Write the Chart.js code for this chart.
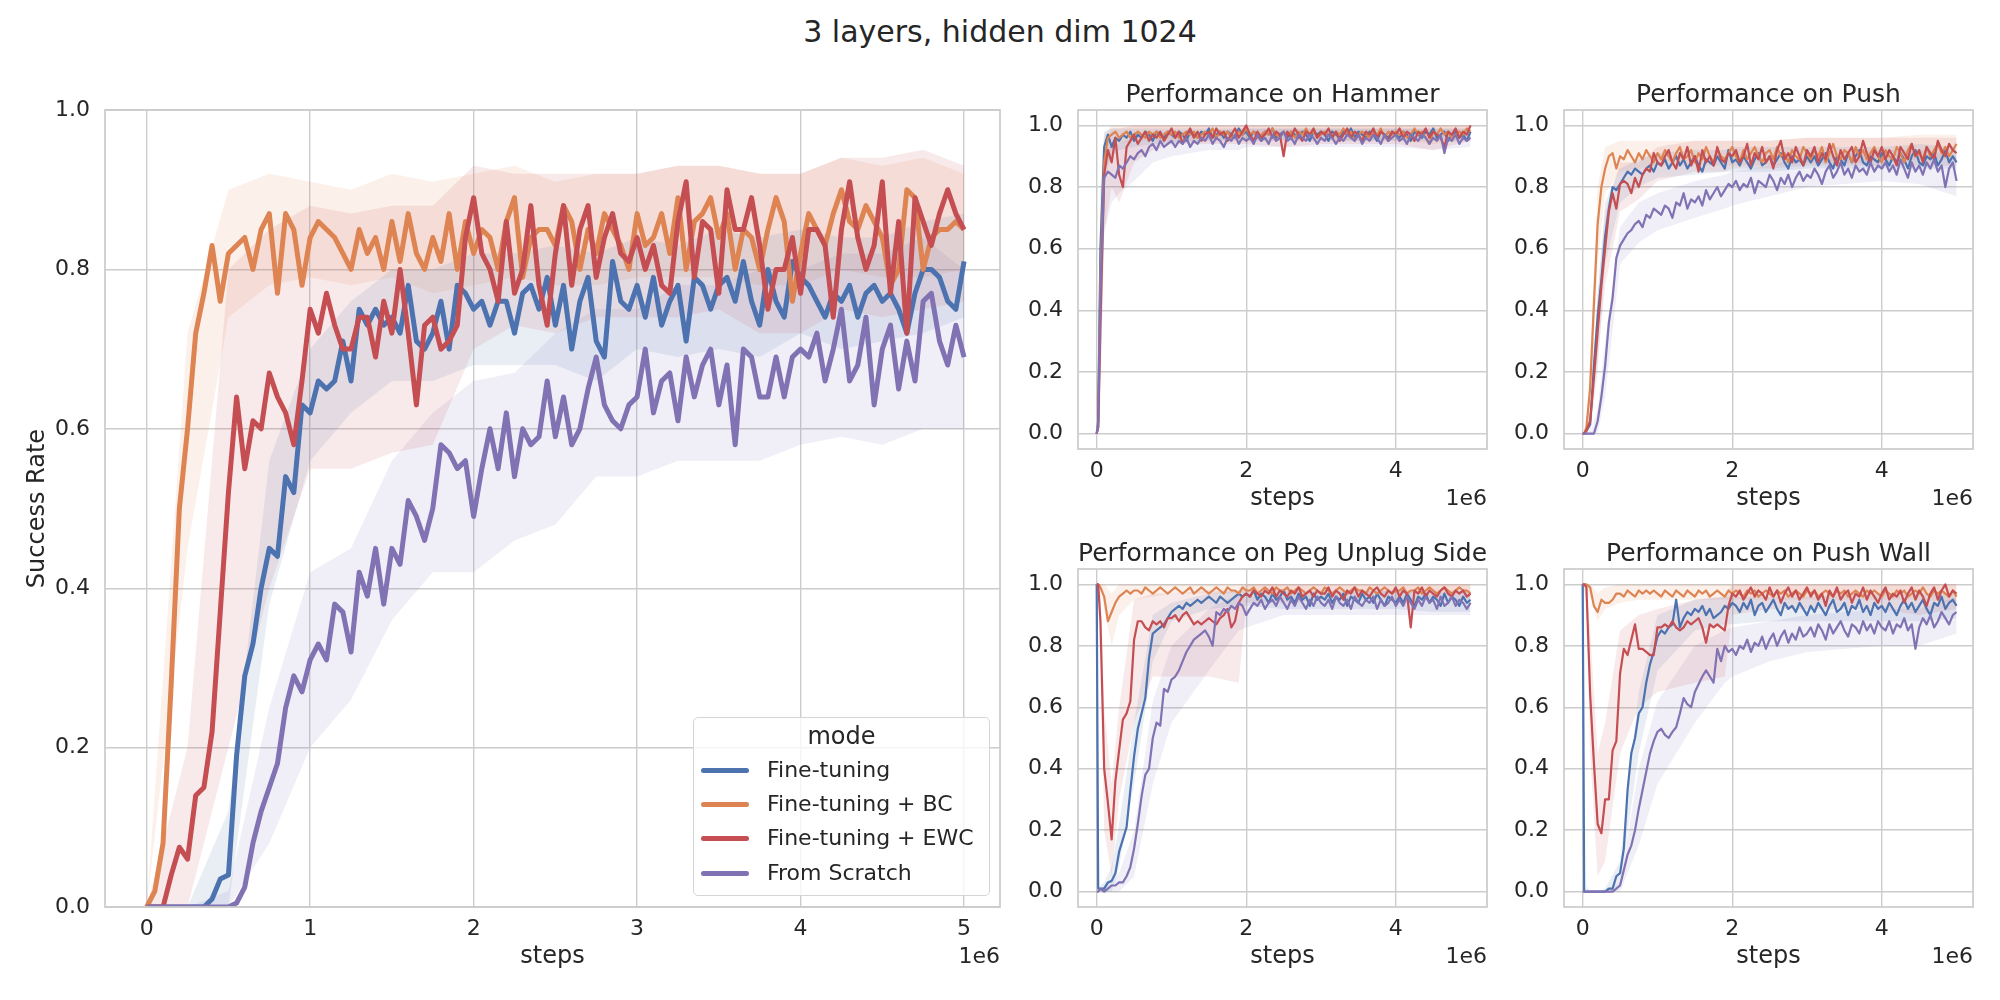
<!DOCTYPE html>
<html>
<head>
<meta charset="utf-8">
<title>3 layers, hidden dim 1024</title>
<script src="https://cdn.jsdelivr.net/npm/chart.js@4.4.1/dist/chart.umd.min.js"></script>
<style>
  html, body { margin: 0; padding: 0; background: #fff; }
  body { width: 2000px; height: 1000px; position: relative; overflow: hidden; font-family: 'DejaVu Sans', sans-serif; color: #262626; }
  canvas { position: absolute; }
  #suptitle { position: absolute; left: 0; top: 15px; width: 2000px; text-align: center; font-size: 30px; line-height: 34px; white-space: nowrap; }
  #legend { position: absolute; box-sizing: border-box; border: 1.5px solid #d5d5d5; border-radius: 5px; background: rgba(255,255,255,0.8); }
  #legend .ttl { position: absolute; left: 0; right: 0; text-align: center; font-size: 24px; line-height: 34px; }
  #legend .row { position: absolute; left: 0; right: 0; height: 34px; }
  #legend .sw { position: absolute; left: 7px; top: 15px; width: 48px; height: 5px; border-radius: 2.5px; }
  #legend .lbl { position: absolute; left: 73px; top: 0; font-size: 22px; line-height: 34px; white-space: nowrap; }
</style>
</head>
<body>
<div id="suptitle">3 layers, hidden dim 1024</div>
<canvas id="main"></canvas>
<canvas id="hammer"></canvas>
<canvas id="push"></canvas>
<canvas id="peg"></canvas>
<canvas id="pushwall"></canvas>
<div id="legend"></div>
<script>
// ---- series names / colours (seaborn "deep")
const MODES = ['Fine-tuning', 'Fine-tuning + BC', 'Fine-tuning + EWC', 'From Scratch'];
const COLORS = ['#4c72b0', '#dd8452', '#c44e52', '#8172b3'];

// ---- ticks
const Y_TICKS = [0, 0.2, 0.4, 0.6, 0.8, 1.0];
const MAIN_X_TICKS = [0, 1, 2, 3, 4, 5];
const SMALL_X_TICKS = [0, 2, 4];

// ---- x positions, in units of 1e6 steps
const STEPS = [0, .05, .1, .15, .2, .25, .3, .35, .4, .45, .5, .55, .6, .65, .7, .75, .8, .85, .9, .95,
  1, 1.05, 1.1, 1.15, 1.2, 1.25, 1.3, 1.35, 1.4, 1.45, 1.5, 1.55, 1.6, 1.65, 1.7, 1.75, 1.8, 1.85, 1.9, 1.95,
  2, 2.05, 2.1, 2.15, 2.2, 2.25, 2.3, 2.35, 2.4, 2.45, 2.5, 2.55, 2.6, 2.65, 2.7, 2.75, 2.8, 2.85, 2.9, 2.95,
  3, 3.05, 3.1, 3.15, 3.2, 3.25, 3.3, 3.35, 3.4, 3.45, 3.5, 3.55, 3.6, 3.65, 3.7, 3.75, 3.8, 3.85, 3.9, 3.95,
  4, 4.05, 4.1, 4.15, 4.2, 4.25, 4.3, 4.35, 4.4, 4.45, 4.5, 4.55, 4.6, 4.65, 4.7, 4.75, 4.8, 4.85, 4.9, 4.95, 5];
const SMALL_STEPS = [0, .02, ...STEPS.slice(1)];
const MAIN_BAND_STEPS = [0, .25, .5, .75, 1, 1.25, 1.5, 1.75, 2, 2.25, 2.5, 2.75, 3, 3.25, 3.5, 3.75, 4, 4.25, 4.5, 4.75, 5];
const SMALL_BAND_STEPS = [0, .05, .1, .2, .3, .5, .75, 1, 1.5, 1.9, 2, 2.5, 3, 4, 4.5, 5];

// ---- main panel: success rate
const MAIN_FT = [0, 0, 0, 0, 0, 0, 0, 0, .01, .035,
  .04, .19, .29, .33, .40, .45, .44, .54, .52, .63,
  .62, .66, .65, .66, .71, .66, .75, .73, .75, .73,
  .74, .72, .78, .71, .70, .72, .76, .70, .78, .77,
  .75, .76, .73, .76, .76, .72, .77, .78, .75, .79,
  .73, .78, .70, .76, .79, .71, .69, .81, .76, .75,
  .78, .74, .79, .73, .76, .78, .71, .79, .78, .75,
  .78, .79, .76, .81, .76, .73, .80, .76, .74, .81,
  .79, .78, .76, .74, .77, .76, .78, .74, .77, .78,
  .76, .77, .75, .72, .77, .80, .80, .79, .76, .75, .81];
const MAIN_BC = [0, .02, .08, .28, .50, .60, .72, .77, .83, .76,
  .82, .83, .84, .80, .85, .87, .77, .87, .85, .78,
  .84, .86, .85, .84, .82, .80, .85, .82, .84, .80,
  .86, .81, .87, .82, .80, .84, .81, .87, .80, .86,
  .82, .85, .84, .80, .86, .89, .79, .84, .85, .85,
  .83, .88, .86, .80, .85, .82, .87, .85, .83, .80,
  .87, .83, .84, .87, .82, .89, .80, .86, .87, .89,
  .84, .87, .80, .85, .84, .80, .85, .89, .86, .76,
  .82, .87, .85, .83, .87, .90, .86, .85, .88, .86,
  .84, .78, .80, .90, .89, .80, .84, .85, .85, .86, .85];
const MAIN_EWC = [0, 0, 0, .04, .075, .06, .14, .15, .22, .37,
  .52, .64, .55, .61, .60, .67, .64, .62, .58, .66,
  .75, .72, .77, .73, .70, .70, .74, .74, .69, .76,
  .72, .80, .72, .63, .73, .74, .70, .71, .73, .84,
  .89, .82, .80, .76, .86, .77, .80, .88, .78, .73,
  .82, .88, .78, .85, .88, .79, .84, .87, .82, .81,
  .84, .80, .83, .78, .77, .86, .91, .79, .86, .85,
  .77, .90, .85, .85, .89, .83, .75, .80, .80, .84,
  .77, .85, .85, .83, .74, .85, .91, .84, .80, .83,
  .91, .77, .86, .72, .89, .86, .83, .87, .90, .87, .85];
const MAIN_SCRATCH = [0, 0, 0, 0, 0, 0, 0, 0, 0, 0,
  0, .005, .025, .08, .12, .15, .18, .25, .29, .27,
  .31, .33, .31, .38, .37, .32, .42, .39, .45, .38,
  .45, .43, .51, .49, .46, .50, .58, .57, .55, .56,
  .49, .55, .60, .55, .62, .54, .60, .58, .59, .66,
  .59, .64, .58, .60, .65, .69, .63, .61, .60, .63,
  .64, .70, .62, .66, .67, .61, .69, .64, .68, .70,
  .63, .68, .58, .70, .69, .64, .64, .69, .64, .69,
  .70, .69, .72, .66, .70, .75, .66, .68, .74, .63,
  .70, .73, .65, .71, .66, .76, .77, .71, .68, .73, .69];

// main panel confidence bands
const MAIN_FT_LO = [0, 0, 0, .38, .56, .62, .66, .66, .68, .68, .68, .66, .70, .69, .70, .69, .72, .70, .71, .72, .74];
const MAIN_FT_HI = [0, 0, .12, .56, .70, .76, .80, .80, .82, .82, .83, .82, .84, .83, .85, .84, .85, .84, .84, .86, .87];
const MAIN_BC_LO = [0, .45, .74, .78, .79, .78, .79, .77, .78, .79, .78, .78, .79, .79, .79, .78, .78, .80, .79, .79, .80];
const MAIN_BC_HI = [0, .72, .90, .92, .91, .90, .92, .91, .92, .93, .91, .92, .92, .93, .93, .92, .92, .94, .93, .94, .92];
const MAIN_EWC_LO = [0, 0, .20, .40, .55, .55, .57, .58, .70, .73, .72, .74, .74, .74, .75, .72, .72, .75, .74, .75, .76];
const MAIN_EWC_HI = [0, .20, .80, .85, .88, .87, .88, .88, .93, .92, .92, .92, .92, .93, .93, .92, .92, .94, .94, .95, .93];
const MAIN_SCRATCH_LO = [0, 0, 0, .08, .20, .26, .36, .42, .42, .46, .48, .54, .54, .56, .56, .56, .58, .59, .58, .60, .60];
const MAIN_SCRATCH_HI = [0, 0, .02, .25, .42, .45, .56, .62, .66, .67, .72, .75, .75, .78, .78, .80, .80, .82, .82, .84, .80];

// ---- Hammer
const HAMMER_FT = [0, .04, .6, .93, .97, .93, .96, .95, .97, .96, .98, .95, .97, .96, .98, .97, .95, .98, .97, .96, .98, .97,
  .96, .98, .97, .95, .98, .97, .96, .98, .97, .99, .96, .97, .98, .96, .98, .97, .96, .99, .97, .98,
  .96, .98, .97, .95, .98, .97, .99, .96, .97, .98, .96, .98, .97, .96, .98, .97, .95, .98, .97, .98,
  .97, .95, .98, .97, .96, .98, .97, .99, .96, .98, .97, .96, .98, .97, .95, .98, .97, .96, .98, .97,
  .96, .98, .97, .95, .98, .97, .96, .98, .97, .99, .96, .97, .98, .95, .97, .98, .96, .97, .95, .98];
const HAMMER_BC = [0, .03, .5, .88, .96, .97, .98, .96, .97, .98, .96, .97, .98, .97, .96, .98, .97, .98, .96, .97, .98, .97,
  .98, .96, .97, .98, .97, .98, .96, .97, .98, .97, .99, .96, .98, .97, .98, .96, .97, .98, .97, .99,
  .97, .98, .96, .97, .98, .97, .99, .97, .96, .98, .97, .98, .96, .98, .97, .99, .97, .98, .96, .97,
  .98, .97, .96, .98, .97, .99, .97, .98, .95, .97, .98, .97, .96, .98, .97, .99, .96, .98, .97, .98,
  .97, .98, .96, .97, .99, .97, .98, .96, .94, .98, .97, .99, .97, .98, .96, .97, .98, .97, .99, .98];
const HAMMER_EWC = [0, .02, .35, .84, .92, .88, .96, .84, .80, .93, .95, .97, .94, .96, .98, .95, .97, .96, .98, .95, .97, .99,
  .96, .98, .94, .97, .99, .96, .98, .95, .97, .98, .96, .99, .97, .98, .95, .97, .99, .96, .98, 1,
  .97, .95, .98, .96, .97, .99, .96, .98, .97, .90, .98, .96, .99, .97, .95, .98, .97, .99, .96, .98,
  .97, .99, .96, .98, .95, .97, .99, .96, .98, .97, .95, .98, .97, .99, .96, .98, .97, .95, .98, .97,
  .99, .96, .98, .97, .95, .98, .97, .99, .96, .98, .97, .96, .93, .98, .97, .99, .96, .98, .97, 1];
const HAMMER_SCRATCH = [0, .02, .45, .83, .85, .84, .83, .87, .86, .88, .90, .89, .91, .92, .90, .93, .94, .92, .95, .93, .94, .95,
  .93, .95, .94, .96, .93, .95, .94, .96, .95, .97, .94, .96, .95, .93, .96, .95, .97, .94, .96, .95,
  .96, .94, .97, .95, .96, .94, .97, .95, .96, .98, .95, .96, .94, .97, .96, .95, .97, .96, .94, .96,
  .95, .97, .96, .94, .96, .95, .97, .96, .95, .97, .94, .96, .95, .97, .96, .94, .97, .95, .96, .97,
  .95, .96, .94, .97, .96, .95, .97, .96, .94, .96, .95, .97, .91, .96, .95, .97, .94, .96, .95, .96];
const HAMMER_FT_LO = [0, .3, .85, .9, .92, .93, .94, .94, .95, .95, .95, .95, .95, .95, .95, .95];
const HAMMER_FT_HI = [0, .8, .98, .99, .99, .99, .99, .99, .99, .99, .99, .99, .99, .99, .99, .99];
const HAMMER_BC_LO = [0, .2, .8, .92, .94, .95, .95, .95, .95, .95, .95, .95, .95, .95, .94, .95];
const HAMMER_BC_HI = [0, .7, .97, 1, 1, 1, 1, 1, 1, 1, 1, 1, 1, 1, 1, 1];
const HAMMER_EWC_LO = [0, .1, .65, .8, .75, .88, .92, .94, .94, .94, .94, .93, .94, .94, .92, .95];
const HAMMER_EWC_HI = [0, .6, .95, .99, .99, 1, 1, 1, 1, 1, 1, 1, 1, 1, 1, 1];
const HAMMER_SCRATCH_LO = [0, .15, .65, .75, .78, .82, .88, .9, .92, .92, .93, .93, .93, .93, .92, .93];
const HAMMER_SCRATCH_HI = [0, .7, .93, .93, .94, .96, .98, .98, .98, .99, .99, .99, .99, .99, .99, .99];

// ---- Push
const PUSH_FT = [0, 0, .01, .03, .22, .38, .50, .64, .73, .80, .79, .81, .83, .85, .84, .86, .85, .84, .86, .87, .85, .88,
  .87, .89, .86, .88, .90, .87, .89, .86, .88, .90, .87, .85, .89, .88, .87, .90, .88, .86, .92, .88,
  .89, .87, .90, .88, .86, .89, .91, .87, .88, .90, .87, .89, .91, .88, .86, .90, .88, .89, .87, .90,
  .88, .90, .87, .89, .91, .88, .86, .90, .89, .87, .91, .88, .90, .92, .88, .87, .90, .89, .88, .91,
  .89, .87, .90, .88, .91, .89, .86, .90, .92, .88, .87, .90, .89, .91, .87, .89, .92, .88, .90, .88];
const PUSH_BC = [0, 0, .02, .15, .42, .68, .80, .86, .90, .91, .86, .90, .89, .92, .90, .88, .91, .89, .92, .90, .88, .91,
  .89, .92, .90, .88, .91, .93, .89, .90, .92, .88, .91, .89, .93, .90, .88, .92, .90, .89, .91, .93,
  .90, .88, .92, .89, .91, .93, .90, .88, .91, .92, .89, .93, .90, .91, .88, .92, .90, .89, .93, .91,
  .89, .92, .90, .93, .88, .91, .94, .90, .89, .92, .91, .88, .93, .90, .92, .89, .91, .93, .90, .88,
  .92, .90, .89, .93, .91, .88, .92, .94, .90, .91, .89, .93, .90, .92, .94, .91, .93, .90, .92, .94];
const PUSH_EWC = [0, 0, .01, .04, .18, .33, .48, .60, .72, .78, .73, .81, .82, .81, .78, .83, .80, .84, .86, .85, .91, .88,
  .87, .90, .92, .88, .86, .91, .89, .93, .87, .90, .85, .92, .88, .90, .87, .93, .89, .88, .91, .90,
  .92, .88, .90, .94, .87, .91, .89, .93, .88, .90, .86, .92, .95, .89, .91, .88, .93, .90, .87, .92,
  .90, .93, .88, .91, .89, .94, .90, .87, .92, .89, .91, .93, .88, .90, .95, .91, .88, .92, .90, .93,
  .89, .92, .90, .87, .93, .91, .89, .94, .90, .92, .88, .93, .91, .89, .95, .92, .90, .94, .92, .91];
const PUSH_SCRATCH = [0, 0, 0, 0, 0, .04, .12, .22, .36, .44, .57, .61, .63, .65, .66, .68, .69, .67, .71, .70, .73, .72,
  .71, .74, .73, .70, .75, .74, .78, .73, .76, .75, .77, .74, .79, .76, .78, .80, .77, .79, .81, .80,
  .82, .79, .81, .80, .83, .78, .82, .81, .80, .84, .82, .79, .83, .81, .84, .80, .83, .85, .82, .84,
  .83, .86, .84, .81, .85, .87, .83, .85, .88, .84, .86, .83, .87, .85, .86, .84, .88, .85, .87, .86,
  .88, .85, .87, .84, .89, .86, .83, .88, .85, .87, .84, .88, .86, .89, .85, .87, .80, .86, .88, .82];
const PUSH_FT_LO = [0, 0, 0, .2, .55, .75, .8, .83, .84, .85, .85, .85, .86, .86, .86, .86];
const PUSH_FT_HI = [0, .02, .06, .45, .75, .86, .89, .91, .92, .92, .93, .93, .93, .93, .94, .93];
const PUSH_BC_LO = [0, 0, .05, .55, .78, .85, .86, .87, .87, .87, .87, .87, .88, .88, .89, .89];
const PUSH_BC_HI = [0, .03, .25, .8, .93, .95, .95, .95, .95, .95, .95, .95, .96, .96, .97, .97];
const PUSH_EWC_LO = [0, 0, .02, .25, .48, .72, .76, .82, .85, .85, .86, .86, .87, .87, .87, .87];
const PUSH_EWC_HI = [0, .02, .08, .45, .72, .88, .88, .93, .95, .95, .95, .95, .96, .96, .96, .96];
const PUSH_SCRATCH_LO = [0, 0, 0, 0, .12, .55, .62, .66, .7, .73, .74, .77, .8, .82, .81, .77];
const PUSH_SCRATCH_HI = [0, 0, 0, .08, .3, .67, .75, .78, .82, .84, .85, .87, .9, .92, .92, .9];

// ---- Peg Unplug Side
const PEG_FT = [1, .01, .01, .01, .03, .035, .06, .13, .17, .21, .33, .44, .53, .58, .63, .76, .84, .85, .86, .87, .89, .91,
  .92, .93, .92, .94, .93, .94, .95, .94, .95, .96, .95, .94, .96, .95, .94, .95, .96, .97, .96, .97,
  .96, .98, .95, .97, .96, .94, .97, .95, .96, .98, .95, .96, .94, .97, .95, .96, .93, .97, .95, .96,
  .95, .97, .94, .96, .95, .97, .93, .96, .95, .94, .97, .95, .96, .94, .97, .95, .93, .96, .95, .94,
  .96, .94, .97, .95, .93, .96, .95, .97, .94, .96, .95, .93, .97, .94, .96, .95, .93, .96, .94, .95];
const PEG_BC = [1, 1, .99, .96, .88, .91, .94, .96, .97, .98, .97, .98, .98, .97, .99, .98, .97, .98, .99, .98, .97, .98,
  .99, .98, .97, .98, .99, .97, .98, .99, .98, .97, .98, .99, .98, .97, .99, .98, .98, .97, .99, .98,
  .98, .99, .97, .98, .99, .98, .97, .99, .98, .98, .99, .97, .98, .99, .98, .97, .98, .99, .98, .97,
  .99, .98, .97, .98, .99, .98, .97, .98, .99, .98, .98, .97, .99, .98, .97, .98, .99, .98, .97, .98,
  .98, .99, .97, .98, .98, .99, .97, .98, .99, .98, .97, .98, .99, .98, .97, .98, .99, .98, .98, .97];
const PEG_EWC = [1, 1, .88, .40, .29, .17, .36, .46, .56, .58, .62, .82, .88, .88, .86, .85, .88, .87, .88, .86, .89, .89,
  .90, .88, .90, .91, .89, .87, .88, .87, .88, .89, .88, .87, .89, .90, .92, .86, .88, .94, .96, .97,
  .96, .98, .97, .96, .98, .97, .99, .96, .98, .97, .96, .98, .97, .99, .96, .97, .98, .96, .98, .97,
  .97, .99, .96, .98, .97, .95, .98, .97, .99, .96, .98, .97, .96, .98, .99, .97, .96, .98, .97, .99,
  .96, .98, .97, .86, .98, .97, .99, .96, .98, .97, .96, .98, .99, .97, .96, .98, .97, .98, .96, .97];
const PEG_SCRATCH = [0, 0, .01, 0, .01, .02, .02, .03, .03, .05, .08, .14, .22, .31, .38, .40, .50, .55, .54, .66, .65, .69,
  .70, .72, .75, .78, .80, .82, .83, .84, .85, .83, .80, .91, .90, .92, .91, .93, .92, .94, .93, .90,
  .92, .94, .93, .95, .92, .94, .95, .93, .96, .94, .92, .95, .93, .96, .94, .92, .95, .93, .96, .94,
  .93, .95, .92, .96, .94, .93, .95, .92, .96, .94, .93, .95, .94, .96, .92, .95, .93, .94, .96, .93,
  .95, .93, .96, .94, .92, .95, .93, .96, .94, .95, .92, .96, .93, .94, .96, .93, .95, .94, .92, .94];
const PEG_FT_LO = [1, 0, 0, 0, .08, .35, .75, .88, .92, .93, .93, .92, .92, .92, .91, .91];
const PEG_FT_HI = [1, .02, .03, .08, .22, .55, .9, .94, .97, .98, .98, .98, .98, .98, .97, .98];
const PEG_BC_LO = [1, .98, .92, .8, .9, .95, .96, .97, .97, .97, .97, .97, .97, .97, .97, .97];
const PEG_BC_HI = [1, 1, 1, .97, 1, 1, 1, 1, 1, 1, 1, 1, 1, 1, 1, 1];
const PEG_EWC_LO = [1, .9, .2, .05, .3, .55, .7, .7, .7, .68, .94, .94, .95, .95, .95, .95];
const PEG_EWC_HI = [1, 1, .6, .35, .6, .95, .97, .97, .98, .98, 1, 1, 1, 1, 1, 1];
const PEG_SCRATCH_LO = [0, 0, 0, 0, 0, .05, .35, .55, .72, .85, .86, .9, .9, .9, .9, .9];
const PEG_SCRATCH_HI = [0, .01, .02, .04, .06, .2, .62, .8, .92, .97, .96, .97, .97, .98, .98, .98];

// ---- Push Wall
const PW_FT = [1, 0, 0, 0, 0, 0, 0, 0, .01, .01, .05, .06, .14, .33, .45, .50, .58, .60, .68, .74, .78, .83,
  .85, .84, .86, .87, .95, .86, .89, .91, .90, .92, .91, .93, .90, .92, .89, .90, .91, .93, .92, .94,
  .93, .91, .94, .92, .95, .90, .93, .94, .91, .93, .95, .92, .90, .94, .92, .93, .91, .94, .92, .90,
  .93, .91, .94, .92, .90, .93, .95, .91, .92, .94, .90, .93, .92, .95, .91, .93, .90, .94, .92, .93,
  .91, .94, .92, .90, .93, .95, .92, .94, .91, .93, .95, .92, .90, .94, .93, .96, .92, .94, .95, .93];
const PW_BC = [1, 1, 1, .99, .93, .91, .95, .94, .94, .95, .97, .97, .96, .98, .97, .96, .98, .97, .98, .97, .98, .97,
  .96, .98, .97, .96, .98, .97, .96, .98, .97, .96, .98, .97, .98, .96, .97, .98, .97, .96, .98, .97,
  .98, .97, .96, .98, .97, .98, .96, .97, .98, .97, .96, .98, .97, .98, .96, .97, .98, .97, .96, .98,
  .97, .98, .96, .97, .98, .97, .96, .98, .97, .98, .96, .97, .98, .97, .96, .98, .97, .98, .97, .96,
  .98, .97, .96, .98, .97, .98, .96, .97, .98, .97, .99, .97, .96, .98, .97, .98, .97, .96, .98, .96];
const PW_EWC = [1, 1, .99, .64, .42, .22, .19, .30, .30, .46, .49, .71, .79, .77, .82, .87, .79, .79, .78, .77, .77, .86,
  .86, .87, .86, .88, .86, .85, .86, .88, .87, .88, .89, .86, .81, .87, .86, .87, .86, .85, .93, .97,
  .96, .98, .95, .97, .99, .96, .98, .97, .95, .99, .96, .98, .94, .97, .99, .96, .98, .95, .97, .99,
  .96, .98, .95, .97, .93, .98, .96, .99, .95, .97, .98, .94, .97, .96, .99, .95, .98, .96, .94, .97,
  .99, .95, .97, .96, .98, .94, .97, .99, .95, .98, .96, .93, .97, .99, .95, .98, 1, .96, .98, .97];
const PW_SCRATCH = [0, 0, 0, 0, 0, 0, 0, 0, 0, 0, .01, .02, .07, .12, .15, .20, .27, .33, .39, .45, .49, .52,
  .53, .51, .50, .52, .535, .58, .63, .61, .60, .65, .675, .70, .72, .70, .68, .79, .75, .80, .78, .79,
  .77, .80, .79, .82, .78, .81, .80, .83, .79, .82, .84, .80, .83, .85, .81, .84, .82, .86, .83, .84,
  .86, .83, .87, .85, .82, .87, .84, .86, .88, .85, .83, .87, .86, .84, .88, .85, .87, .84, .88, .86,
  .85, .88, .84, .87, .86, .89, .85, .87, .79, .86, .89, .87, .90, .86, .88, .91, .89, .87, .90, .91];
const PW_FT_LO = [1, 0, 0, 0, 0, .02, .45, .72, .85, .87, .87, .88, .88, .88, .88, .89];
const PW_FT_HI = [1, .02, 0, 0, .01, .1, .65, .9, .95, .96, .96, .96, .96, .97, .97, .97];
const PW_BC_LO = [1, .98, .96, .88, .92, .94, .95, .95, .95, .95, .95, .95, .95, .95, .95, .94];
const PW_BC_HI = [1, 1, 1, .97, .99, 1, 1, 1, 1, 1, 1, 1, 1, 1, 1, 1];
const PW_EWC_LO = [1, .95, .45, .05, .1, .45, .6, .65, .68, .7, .9, .92, .92, .92, .9, .92];
const PW_EWC_HI = [1, 1, .85, .45, .55, .85, .9, .92, .95, .96, 1, 1, 1, 1, 1, 1];
const PW_SCRATCH_LO = [0, 0, 0, 0, 0, 0, .15, .35, .55, .68, .7, .75, .78, .8, .8, .84];
const PW_SCRATCH_HI = [0, 0, 0, 0, 0, .03, .4, .62, .8, .85, .86, .88, .9, .92, .92, .96];

// ---------------------------------------------------------------------------
Chart.defaults.font.family = "'DejaVu Sans', sans-serif";
Chart.defaults.color = '#262626';

const GRID = '#cccccc';
const BAND_ALPHA = 0.12;

function hexToRgba(hex, a) {
  const n = parseInt(hex.slice(1), 16);
  return `rgba(${n >> 16}, ${(n >> 8) & 255}, ${n & 255}, ${a})`;
}

function pts(xs, ys) {
  return xs.map((x, i) => ({ x, y: ys[i] }));
}

// draws all four spines like matplotlib
const framePlugin = {
  id: 'frame',
  afterDatasetsDraw(chart) {
    const { ctx, chartArea: a } = chart;
    ctx.save();
    ctx.strokeStyle = GRID;
    ctx.lineWidth = 1.75;
    ctx.strokeRect(a.left, a.top, a.right - a.left, a.bottom - a.top);
    ctx.restore();
  }
};

// "1e6" offset text under the right end of the x axis
const offsetTextPlugin = {
  id: 'offsetText',
  afterDraw(chart, args, opts) {
    const { ctx, chartArea: a } = chart;
    ctx.save();
    ctx.font = "22px 'DejaVu Sans'";
    ctx.fillStyle = '#262626';
    ctx.textAlign = 'right';
    ctx.textBaseline = 'middle';
    ctx.fillText(opts.text, a.right, a.bottom + opts.dy);
    ctx.restore();
  }
};

function buildDatasets(xs, lines, bandXs, bands, width) {
  const ds = [];
  bands.forEach(([lo, hi], k) => {
    const base = ds.length;
    ds.push({ data: pts(bandXs, lo), borderWidth: 0, borderColor: 'transparent', pointRadius: 0, fill: false, order: 20 + k, clip: 0 });
    ds.push({ data: pts(bandXs, hi), borderWidth: 0, borderColor: 'transparent', pointRadius: 0,
      fill: base, backgroundColor: hexToRgba(COLORS[k], BAND_ALPHA), order: 20 + k, clip: 0 });
  });
  lines.forEach((ys, k) => {
    ds.push({ label: MODES[k], data: pts(xs, ys), borderColor: COLORS[k], borderWidth: width,
      pointRadius: 0, fill: false, order: 4 - k, clip: 0 });
  });
  return ds;
}

function makeChart(id, p) {
  const canvas = document.getElementById(id);
  const cl = p.area.l - p.ml, ct = p.area.t - p.mt;
  const cw = p.area.r - p.area.l + p.ml + p.mr;
  const ch = p.area.b - p.area.t + p.mt + p.mb;
  canvas.width = cw; canvas.height = ch;
  canvas.style.left = cl + 'px'; canvas.style.top = ct + 'px';
  canvas.style.width = cw + 'px'; canvas.style.height = ch + 'px';

  const hasTitle = !!p.title;
  return new Chart(canvas, {
    type: 'line',
    data: { datasets: buildDatasets(p.xs, p.lines, p.bandXs, p.bands, p.lineWidth) },
    options: {
      responsive: false,
      animation: false,
      events: [],
      layout: { padding: { left: 0, right: p.mr, top: hasTitle ? 0 : p.mt, bottom: 0 } },
      elements: { line: { borderJoinStyle: 'round', borderCapStyle: 'butt', tension: 0 } },
      plugins: {
        legend: { display: false },
        tooltip: { enabled: false },
        title: hasTitle ? {
          display: true, fullSize: false, text: p.title, color: '#262626',
          font: { size: 25, weight: 'normal' }, padding: { top: p.mt - 30, bottom: 0 }
        } : { display: false },
        offsetText: { text: '1e6', dy: 50.5 }
      },
      scales: {
        x: {
          type: 'linear', min: p.xMin, max: p.xMax,
          afterBuildTicks: (axis) => { axis.ticks = p.xTicks.map(v => ({ value: v })); },
          afterFit: (scale) => { scale.height = p.mb; },
          ticks: { font: { size: 22 }, padding: 9.5, autoSkip: false, maxRotation: 0, callback: v => String(v) },
          grid: { color: GRID, lineWidth: 1.4, drawTicks: false },
          border: { display: false },
          title: { display: true, text: 'steps', font: { size: 24 }, padding: { top: 0, bottom: p.mb - 49.5 - 14.4 } }
        },
        y: {
          type: 'linear', min: p.yMin, max: p.yMax,
          afterBuildTicks: (axis) => { axis.ticks = Y_TICKS.map(v => ({ value: v })); },
          afterFit: (scale) => { scale.width = p.ml; },
          ticks: { font: { size: 22 }, padding: 15, autoSkip: false, callback: v => v.toFixed(1) },
          grid: { color: GRID, lineWidth: 1.4, drawTicks: false },
          border: { display: false },
          title: p.yTitle ? { display: true, text: p.yTitle, font: { size: 24 }, padding: { top: 38 - 14.4, bottom: 0 } } : { display: false }
        }
      }
    },
    plugins: [framePlugin, offsetTextPlugin]
  });
}

// main panel
makeChart('main', {
  area: { l: 105, t: 110, r: 1000, b: 907 }, ml: 105, mt: 60, mr: 10, mb: 93,
  xs: STEPS, lines: [MAIN_FT, MAIN_BC, MAIN_EWC, MAIN_SCRATCH],
  bandXs: MAIN_BAND_STEPS,
  bands: [[MAIN_FT_LO, MAIN_FT_HI], [MAIN_BC_LO, MAIN_BC_HI], [MAIN_EWC_LO, MAIN_EWC_HI], [MAIN_SCRATCH_LO, MAIN_SCRATCH_HI]],
  lineWidth: 5, xMin: -0.255, xMax: 5.22, yMin: 0, yMax: 1, xTicks: MAIN_X_TICKS, yTitle: 'Success Rate'
});

const SMALL = [
  { id: 'hammer', title: 'Performance on Hammer', area: { l: 1078, t: 110, r: 1487, b: 449 },
    lines: [HAMMER_FT, HAMMER_BC, HAMMER_EWC, HAMMER_SCRATCH],
    bands: [[HAMMER_FT_LO, HAMMER_FT_HI], [HAMMER_BC_LO, HAMMER_BC_HI], [HAMMER_EWC_LO, HAMMER_EWC_HI], [HAMMER_SCRATCH_LO, HAMMER_SCRATCH_HI]] },
  { id: 'push', title: 'Performance on Push', area: { l: 1564, t: 110, r: 1973, b: 449 },
    lines: [PUSH_FT, PUSH_BC, PUSH_EWC, PUSH_SCRATCH],
    bands: [[PUSH_FT_LO, PUSH_FT_HI], [PUSH_BC_LO, PUSH_BC_HI], [PUSH_EWC_LO, PUSH_EWC_HI], [PUSH_SCRATCH_LO, PUSH_SCRATCH_HI]] },
  { id: 'peg', title: 'Performance on Peg Unplug Side', area: { l: 1078, t: 569, r: 1487, b: 907 },
    lines: [PEG_FT, PEG_BC, PEG_EWC, PEG_SCRATCH],
    bands: [[PEG_FT_LO, PEG_FT_HI], [PEG_BC_LO, PEG_BC_HI], [PEG_EWC_LO, PEG_EWC_HI], [PEG_SCRATCH_LO, PEG_SCRATCH_HI]] },
  { id: 'pushwall', title: 'Performance on Push Wall', area: { l: 1564, t: 569, r: 1973, b: 907 },
    lines: [PW_FT, PW_BC, PW_EWC, PW_SCRATCH],
    bands: [[PW_FT_LO, PW_FT_HI], [PW_BC_LO, PW_BC_HI], [PW_EWC_LO, PW_EWC_HI], [PW_SCRATCH_LO, PW_SCRATCH_HI]] }
];

SMALL.forEach(s => makeChart(s.id, {
  area: s.area, ml: 75, mt: 50, mr: 20, mb: 80, title: s.title,
  xs: SMALL_STEPS, lines: s.lines, bandXs: SMALL_BAND_STEPS, bands: s.bands,
  lineWidth: 2.2, xMin: -0.25, xMax: 5.22, yMin: -0.05, yMax: 1.05, xTicks: SMALL_X_TICKS
}));

// legend (inside the main panel, lower right)
(function buildLegend() {
  const box = document.getElementById('legend');
  const L = 693, T = 717;
  box.style.left = L + 'px'; box.style.top = T + 'px';
  box.style.width = '297px'; box.style.height = '179px';
  const ttl = document.createElement('div');
  ttl.className = 'ttl'; ttl.textContent = 'mode';
  ttl.style.top = (736 - 17 - T - 1.5) + 'px';
  box.appendChild(ttl);
  MODES.forEach((m, k) => {
    const row = document.createElement('div');
    row.className = 'row';
    row.style.top = (770 + 34.4 * k - 17 - T - 1.5) + 'px';
    const sw = document.createElement('div');
    sw.className = 'sw'; sw.style.background = COLORS[k];
    const lbl = document.createElement('div');
    lbl.className = 'lbl'; lbl.textContent = m;
    row.appendChild(sw); row.appendChild(lbl);
    box.appendChild(row);
  });
})();
</script>
</body>
</html>
